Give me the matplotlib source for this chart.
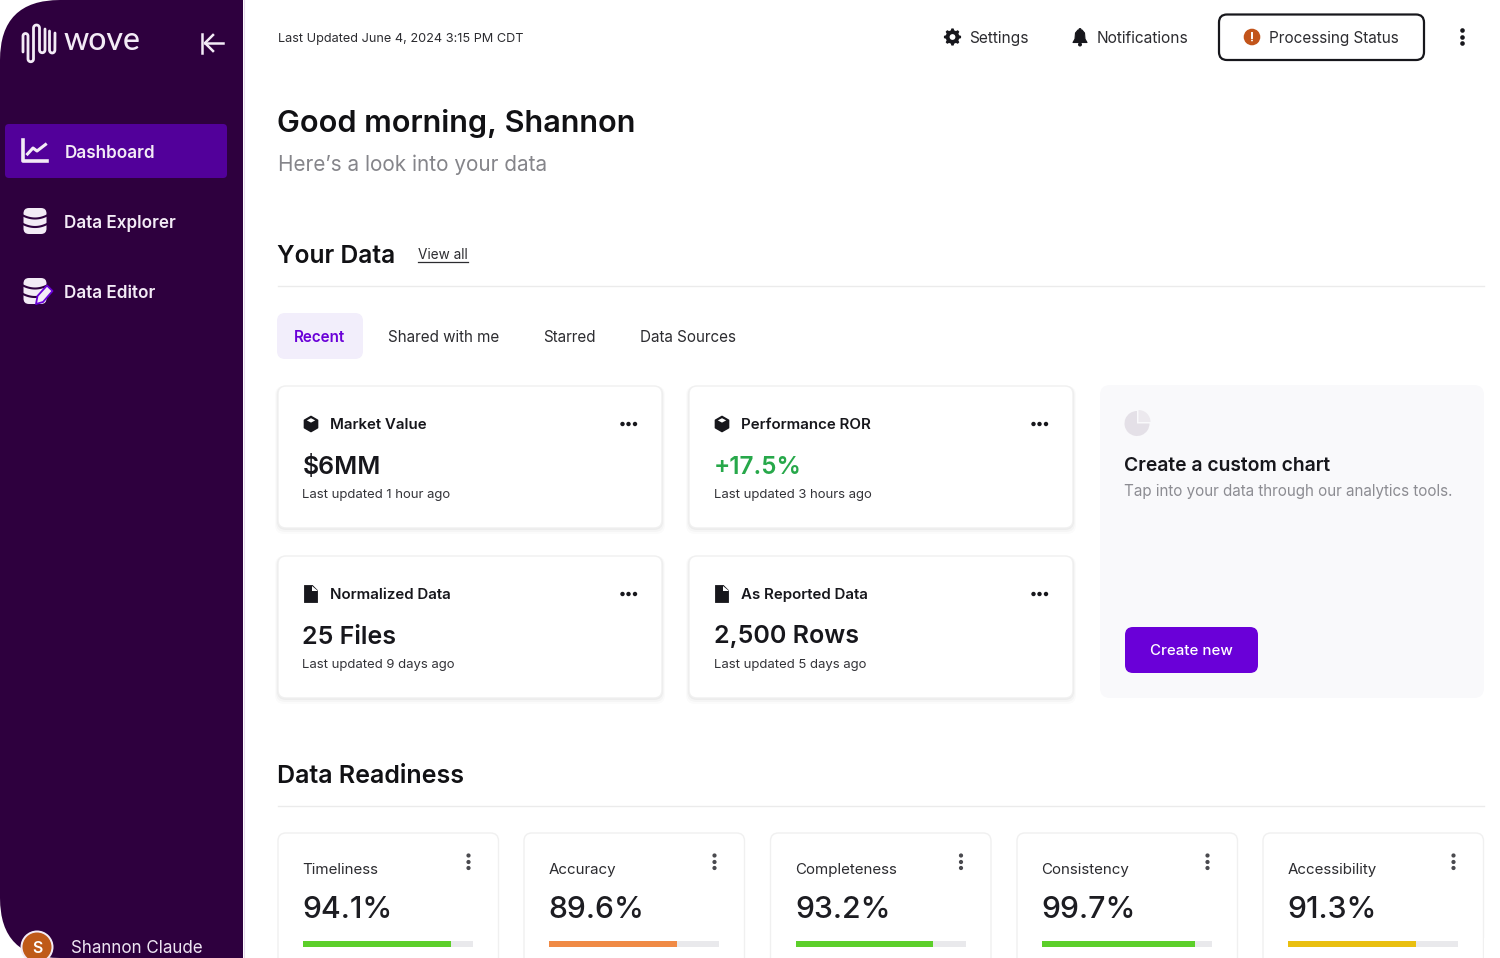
import matplotlib
matplotlib.use('Agg')
import matplotlib.pyplot as plt
import numpy as np
from matplotlib.patches import FancyBboxPatch, Circle, Polygon, Rectangle, Wedge

plt.rcParams['font.family'] = ['Inter', 'DejaVu Sans']

# data
nav_labels = ['Dashboard', 'Data Explorer', 'Data Editor']
tab_labels = ['Recent', 'Shared with me', 'Starred', 'Data Sources']
card_titles = ['Market Value', 'Performance ROR', 'Normalized Data', 'As Reported Data']
card_values = ['$6MM', '+17.5%', '25 Files', '2,500 Rows']
card_notes = ['Last updated 1 hour ago', 'Last updated 3 hours ago',
              'Last updated 9 days ago', 'Last updated 5 days ago']
card_icons = ['cube', 'cube', 'file', 'file']
ready_names = ['Timeliness', 'Accuracy', 'Completeness', 'Consistency', 'Accessibility']
ready_values = [94.1, 89.6, 93.2, 99.7, 91.3]
ready_fill = [0.87, 0.75, 0.81, 0.90, 0.75]
ready_colors = ['#5ccf2a', '#f08a45', '#5ccf2a', '#5ccf2a', '#e9bf10']

PLUM = '#2e003e'
VIOLET = '#6a00d8'
INK = '#17171c'
PALE = '#f3ebf6'

fig = plt.figure(figsize=(15, 9.58), dpi=100)
ax = fig.add_axes([0, 0, 1, 1])
ax.set_xlim(0, 1500)
ax.set_ylim(958, 0)
ax.axis('off')


def txt(x, y, s, px, color=INK, weight='normal', ha='left', **kw):
    # px is the font height in image pixels
    return ax.text(x, y, s, fontsize=px * 0.72, color=color, fontweight=weight,
                   ha=ha, va='baseline', **kw)


def rbox(x0, y0, x1, y1, r, fc, ec='none', lw=0, alpha=None, z=1):
    p = FancyBboxPatch((x0, y0), x1 - x0, y1 - y0, boxstyle='round,pad=0,rounding_size=%g' % r,
                       fc=fc, ec=ec, lw=lw, alpha=alpha, zorder=z)
    ax.add_patch(p)
    return p


def dots(xs, ys, r, color=INK):
    for x, y in zip(xs, ys):
        ax.add_patch(Circle((x, y), r, fc=color, ec='none', zorder=4))


def card(x0, y0, x1, y1):
    for d, a in zip([6, 4, 2], [0.015, 0.025, 0.035]):
        rbox(x0 - d / 2, y0, x1 + d / 2, y1 + d, 9, '#000000', alpha=a, z=1)
    rbox(x0, y0, x1, y1, 8, 'white', ec='#f0f0f0', lw=1, z=2)


def db_icon(cx, cy):
    rbox(cx - 11.5, cy - 13, cx + 11.5, cy + 13, 5.5, PALE, z=4)
    u = np.linspace(-1, 1, 30)
    for y0 in [cy - 5.5, cy + 3]:
        ax.plot(cx + 12 * u, y0 + 3 * (1 - u ** 2), color=PLUM, lw=1.5, zorder=5)


def cube_icon(cx, cy):
    a = np.radians(np.arange(30, 390, 60))
    ax.add_patch(Polygon(np.c_[cx + 7.5 * np.cos(a), cy + 7.5 * np.sin(a)], fc=INK, ec=INK,
                         lw=1.2, joinstyle='round', zorder=4))
    ax.add_patch(Polygon([(cx - 4.2, cy - 3.6), (cx, cy - 5.8), (cx + 4.2, cy - 3.6), (cx, cy - 1.4)],
                         fc='white', ec='none', zorder=5))


def file_icon(cx, cy):
    ax.add_patch(Polygon([(cx - 6.5, cy - 8.5), (cx + 1.5, cy - 8.5), (cx + 6.5, cy - 3.5),
                          (cx + 6.5, cy + 8.5), (cx - 6.5, cy + 8.5)], fc=INK, ec=INK, lw=0.6,
                         joinstyle='round', zorder=4))
    ax.add_patch(Polygon([(cx + 1.2, cy - 8.5), (cx + 1.2, cy - 3.2), (cx + 6.5, cy - 3.2)],
                         fc='white', ec='none', zorder=5))


def wave(xs, ends):
    # vertical strokes joined by half circles, alternating top and bottom
    px, py = [], []
    for i in range(len(xs) - 1):
        xa, xb = xs[i], xs[i + 1]
        px.append(xa)
        py.append(ends[i])
        c = (xa + xb) / 2
        r = (xb - xa) / 2
        th = np.linspace(np.pi, 0, 12)
        sign = -1 if i % 2 == 0 else 1
        y_arc = min(ends[i], ends[i + 1]) if sign < 0 else max(ends[i], ends[i + 1])
        px += list(c + r * np.cos(th))
        py += list(y_arc + sign * r * np.sin(th))
    return px, py


# sidebar
rbox(0, 0, 243, 958, 60, PLUM, z=1)
ax.add_patch(Rectangle((100, 0), 143, 958, fc=PLUM, ec='none', zorder=1))
ax.plot([243.5, 243.5], [0, 958], color='#e6dcec', lw=0.8, zorder=1)

# logo squiggle
lx, ly = wave([23, 28, 33.5, 39.5, 45], [36, 59, 28, 50, 29])
ax.plot([23] + lx + [45], [52] + ly + [29], color=PALE, lw=2, zorder=3, solid_capstyle='round')
u = np.linspace(np.pi, 0, 12)
ax.plot([49.5] + list(52.2 + 2.7 * np.cos(u)) + [55], [31] + list(50 + 3 * np.sin(u)) + [33],
        color=PALE, lw=2, zorder=3, solid_capstyle='round')
txt(64, 50, 'wove', 32, PALE, 'medium', family='Lato')

# collapse arrow
ax.plot([202, 202], [33.5, 53], color=PALE, lw=1.8, zorder=3)
ax.plot([223, 205], [43, 43], color=PALE, lw=1.8, zorder=3)
ax.plot([213, 205, 213], [35, 43, 51], color=PALE, lw=1.8, zorder=3)

# nav items
rbox(5, 124, 227, 178, 4, '#52009a', z=2)
for label, base in zip(nav_labels, [157.5, 227.5, 297.5]):
    txt(64.5, base, label, 17.1, PALE, 'semibold', zorder=5)
ax.plot([23, 23, 47], [140, 161, 161], color=PALE, lw=2.6, zorder=4)
ax.plot([27.5, 33, 37, 45.5], [154, 148, 151, 144.5], color=PALE, lw=2.2, zorder=4)
db_icon(35, 221)
db_icon(35, 291)
ax.add_patch(Polygon([(36, 304), (37.5, 296), (47, 285.5), (52.5, 291), (43, 302)],
                     fc=PALE, ec=VIOLET, lw=1.3, joinstyle='round', zorder=6))

# user
ax.add_patch(Circle((37, 947), 16.5, fc=PALE, ec='none', zorder=3))
ax.add_patch(Circle((37, 947), 14.5, fc='#bf5a18', ec='none', zorder=4))
txt(37, 953, 'S', 16, 'white', 'semibold', ha='center', zorder=5)
txt(71, 953, 'Shannon Claude', 17, '#eee6f2', zorder=5)

# top bar
txt(277.5, 41.5, 'Last Updated June 4, 2024 3:15 PM CDT', 12.7, '#2c2c30')
txt(969.5, 43, 'Settings', 15.5, '#2c2c30')
txt(1097, 43, 'Notifications', 15.5, '#2c2c30')
a = np.radians(np.arange(0, 360, 7.5))
rad = 8.6 - 1.8 * (np.cos(a * 8) < -0.2)
ax.add_patch(Polygon(np.c_[952.5 + rad * np.cos(a), 37 + rad * np.sin(a)], fc=INK, ec='none', zorder=4))
ax.add_patch(Circle((952.5, 37), 2.9, fc='white', ec='none', zorder=5))
ax.add_patch(Polygon([(1073, 42.5), (1075, 39), (1075.5, 33), (1078, 30), (1082, 30), (1084.5, 33),
                      (1085, 39), (1087, 42.5)], fc=INK, ec=INK, lw=0.8, joinstyle='round', zorder=4))
ax.add_patch(Circle((1080, 44.5), 2, fc=INK, ec='none', zorder=4))
ax.add_patch(Circle((1080, 29.5), 1.5, fc=INK, ec='none', zorder=4))
rbox(1219, 14.5, 1424, 60, 8, 'white', ec='#17171c', lw=1.6, z=2)
ax.add_patch(Circle((1252, 37), 8.3, fc='#c2541a', ec='none', zorder=4))
ax.plot([1252, 1252], [33, 37.5], color='white', lw=1.4, zorder=5)
ax.add_patch(Circle((1252, 40.5), 0.9, fc='white', ec='none', zorder=5))
txt(1269, 43, 'Processing Status', 15.3, '#2c2c30')
dots([1462.5] * 3, [30.5, 37.5, 43.5], 2.3)

# greeting
txt(277, 132, 'Good morning, Shannon', 30.6, '#111114', 'semibold')
txt(277.5, 171, 'Here’s a look into your data', 20.7, '#85858a')

# your data
txt(277, 263, 'Your Data', 24.6, '#111114', 'semibold')
txt(417.5, 259, 'View all', 13.6, '#2c2c30')
ax.plot([418, 467.5], [262, 262], color='#2c2c30', lw=0.9)
ax.plot([278, 1484], [286, 286], color='#ebebeb', lw=1)

rbox(277, 313, 363, 359, 8, '#f2eefb')
for label, x in zip(tab_labels, [294, 388.5, 543.5, 639.5]):
    if label == 'Recent':
        txt(x, 342, label, 15.2, VIOLET, 'semibold', zorder=3)
    else:
        txt(x, 342, label, 15.2, '#2c2c30', zorder=3)

card_pos = [(278, 386), (689, 386), (278, 556), (689, 556)]
for (x, y), title, value, note, icon in zip(card_pos, card_titles, card_values, card_notes, card_icons):
    card(x, y, x + 384, y + 142)
    if icon == 'cube':
        cube_icon(x + 33, y + 38)
    else:
        file_icon(x + 33, y + 38)
    txt(x + 52, y + 43, title, 15.1, INK, 'semibold', zorder=5)
    if value.startswith('+'):
        txt(x + 25, y + 87.5, value, 24.2, '#27a84a', 'semibold', zorder=5)
    else:
        txt(x + 24.5, y + 87.5, value, 25, INK, 'semibold', zorder=5)
    txt(x + 24.5, y + 112, note, 13.1, '#333338', zorder=5)
    dots([x + 344.5, x + 350.5, x + 357], [y + 38] * 3, 2.2)

# custom chart panel
rbox(1100, 385, 1484, 698, 10, '#f9f9fb')
ax.add_patch(Wedge((1137, 423.5), 12.5, 0, 270, fc='#e4e0e7', ec='none', zorder=3))
ax.add_patch(Wedge((1138.5, 422), 12, 270, 360, fc='#ece9ee', ec='none', zorder=3))
txt(1124.5, 471, 'Create a custom chart', 19.3, INK, 'semibold', zorder=3)
txt(1124.5, 496, 'Tap into your data through our analytics tools.', 15.2, '#8c8c92', zorder=3)
rbox(1125, 627, 1258, 673, 8, VIOLET, z=3)
txt(1191, 655, 'Create new', 15, 'white', 'medium', ha='center', zorder=4)

# data readiness
txt(277, 783, 'Data Readiness', 25, '#111114', 'semibold')
ax.plot([278, 1484], [806, 806], color='#ebebeb', lw=1)

ready_x = [278, 524, 770.5, 1017, 1263]
for x, name, val, frac, col in zip(ready_x, ready_names, ready_values, ready_fill, ready_colors):
    rbox(x, 833, x + 220.5, 990, 8, 'white', ec='#f0f0f0', lw=1, z=2)
    txt(x + 24.5, 874, name, 15.1, '#2c2c30', zorder=4)
    txt(x + 24.5, 918, '%.1f%%' % val, 30.2, '#1d1d22', 'medium', zorder=4)
    ax.barh(944, 170, height=6.5, left=x + 25, color='#e9e9ec', zorder=3)
    ax.barh(944, 170 * frac, height=6.5, left=x + 25, color=col, zorder=4)
    dots([x + 190.5] * 3, [855.5, 862, 868], 2.1, '#4a4a4f')

# right edge of the screenshot cuts the last card
ax.add_patch(Rectangle((1484, 938), 16, 20, fc='white', ec='none', zorder=6))

ax.set_xlim(0, 1500)
ax.set_ylim(958, 0)
fig.savefig('out.png', dpi=100)
